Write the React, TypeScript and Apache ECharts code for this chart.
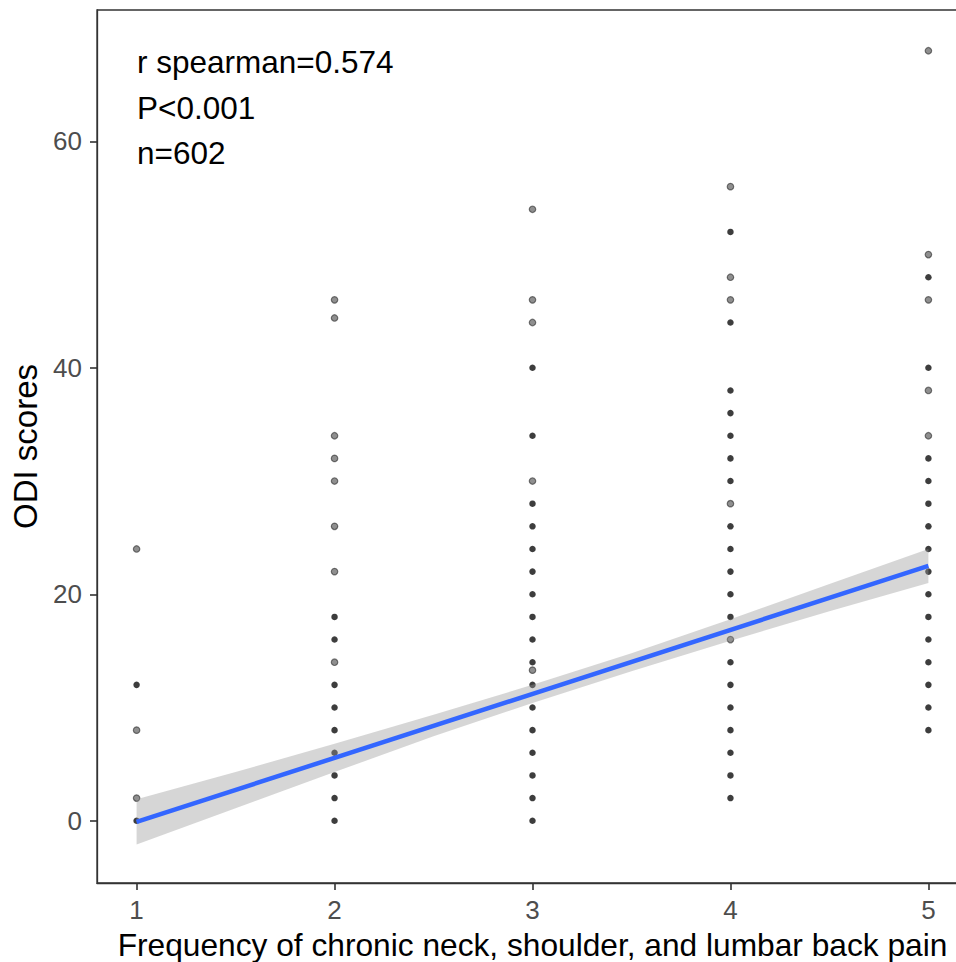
import React, { useEffect, useRef } from "react";
import * as echarts from "echarts";

// Frequency levels (x) and observed ODI scores (y) at each level
const freqLevels = [1, 2, 3, 4, 5];
const odiByFreq: number[][] = [
  [24, 12, 8, 2, 0],
  [46, 44.4, 34, 32, 30, 26, 22, 18, 16, 14, 12, 10, 8, 6, 4, 2, 0],
  [54, 46, 44, 40, 34, 30, 28, 26, 24, 22, 20, 18, 16, 14, 13.3, 12, 10, 8, 6, 4, 2, 0],
  [56, 52, 48, 46, 44, 38, 36, 34, 32, 30, 28, 26, 24, 22, 20, 18, 16, 14, 12, 10, 8, 6, 4, 2],
  [68, 50, 48, 46, 40, 38, 34, 32, 30, 28, 26, 24, 22, 20, 18, 16, 14, 12, 10, 8],
];
// Values seen as single (lighter) points at each level; the others are overlapping (darker)
const singleByFreq: number[][] = [
  [24, 8, 2],
  [46, 44.4, 34, 32, 30, 26, 22, 14],
  [54, 46, 44, 30, 13.3],
  [56, 48, 46, 28, 16],
  [68, 50, 46, 38, 34],
];

// Linear fit and its confidence band
const fitX = [1, 5];
const fitY = [-0.1, 22.5];
const bandX = [1, 1.5, 2, 2.5, 3, 3.5, 4, 4.5, 5];
const bandLow = [-2.1, 1.1, 4.3, 7.45, 10.4, 13.2, 15.9, 18.5, 21.0];
const bandHigh = [1.9, 4.3, 6.8, 9.35, 12.0, 14.8, 17.8, 20.9, 24.0];

const xTicks = [1, 2, 3, 4, 5];
const yTicks = [0, 20, 40, 60];
const xTitle = "Frequency of chronic neck, shoulder, and lumbar back pain";
const yTitle = "ODI scores";
const statLines = ["r spearman=0.574", "P<0.001", "n=602"];

const FONT = "'Liberation Sans', Arial, sans-serif";

export default function App() {
  const ref = useRef<HTMLDivElement>(null);

  useEffect(() => {
    if (!ref.current) return;
    const chart = echarts.init(ref.current, undefined, { renderer: "svg" });

    const singles: number[][] = [];
    const dense: number[][] = [];
    freqLevels.forEach((f, i) => {
      odiByFreq[i].forEach((v) => {
        if (singleByFreq[i].includes(v)) singles.push([f, v]);
        else dense.push([f, v]);
      });
    });

    const option: any = {
      animation: false,
      backgroundColor: "#fff",
      grid: {
        left: 97,
        top: 10,
        width: 871,
        height: 873,
        outerBoundsMode: "none",
        containLabel: false,
        show: true,
        borderColor: "#333",
        borderWidth: 1.3,
        backgroundColor: "#fff",
      },
      xAxis: {
        type: "value",
        min: 0.8,
        max: 5.2,
        splitLine: { show: false },
        axisLine: { show: true, onZero: false, lineStyle: { color: "#333", width: 1.3 } },
        axisTick: { show: true, customValues: xTicks, length: 7, lineStyle: { color: "#333", width: 1.6 } },
        axisLabel: { customValues: xTicks, fontSize: 26, color: "#4D4D4D", margin: 14, fontFamily: FONT },
        name: xTitle,
        nameLocation: "middle",
        nameGap: 46,
        nameTextStyle: { fontSize: 31.7, color: "#000", fontFamily: FONT, lineHeight: 32 },
      },
      yAxis: {
        type: "value",
        min: -5.5,
        max: 71.6,
        splitLine: { show: false },
        axisLine: { show: true, onZero: false, lineStyle: { color: "#333", width: 1.3 } },
        axisTick: { show: true, customValues: yTicks, length: 7, lineStyle: { color: "#333", width: 1.6 } },
        axisLabel: { customValues: yTicks, fontSize: 26, color: "#4D4D4D", margin: 15, fontFamily: FONT },
        name: yTitle,
        nameLocation: "middle",
        nameGap: 55,
        nameRotate: 90,
        nameTextStyle: { fontSize: 33, color: "#000", fontFamily: FONT },
      },
      series: [
        {
          type: "scatter",
          data: singles,
          symbol: "circle",
          symbolSize: 6.5,
          itemStyle: { color: "rgba(0,0,0,0.55)", borderColor: "rgba(0,0,0,0.6)", borderWidth: 1.2 },
          z: 1,
        },
        {
          type: "scatter",
          data: dense,
          symbol: "circle",
          symbolSize: 6.5,
          itemStyle: { color: "rgba(0,0,0,0.95)" },
          z: 1,
        },
        {
          type: "custom",
          data: [[bandX[0], bandLow[0]]],
          encode: { x: 0, y: 1 },
          z: 2,
          renderItem: (params: any, api: any) => {
            if (params.dataIndex !== 0) return null;
            const upper = bandX.map((x, i) => api.coord([x, bandHigh[i]]));
            const lower = bandX.map((x, i) => api.coord([x, bandLow[i]])).reverse();
            return {
              type: "polygon",
              shape: { points: upper.concat(lower) },
              style: { fill: "rgba(153,153,153,0.4)", stroke: "none" },
            };
          },
        },
        {
          type: "line",
          data: fitX.map((x, i) => [x, fitY[i]]),
          showSymbol: false,
          symbol: "none",
          lineStyle: { color: "#3366FF", width: 4.5 },
          z: 3,
        },
      ],
      graphic: statLines.map((t, i) => ({
        type: "text",
        x: 137,
        y: 62 + i * 45.7,
        z: 10,
        style: {
          text: t,
          fontSize: 31.5,
          fontFamily: FONT,
          fill: "#000",
          verticalAlign: "middle",
        },
      })),
    };

    chart.setOption(option);
    return () => chart.dispose();
  }, []);

  return (
    <div
      style={{
        position: "absolute",
        left: 0,
        top: 0,
        width: 956,
        height: 962,
        overflow: "hidden",
        background: "#fff",
      }}
    >
      <div ref={ref} style={{ width: 980, height: 962 }} />
    </div>
  );
}
